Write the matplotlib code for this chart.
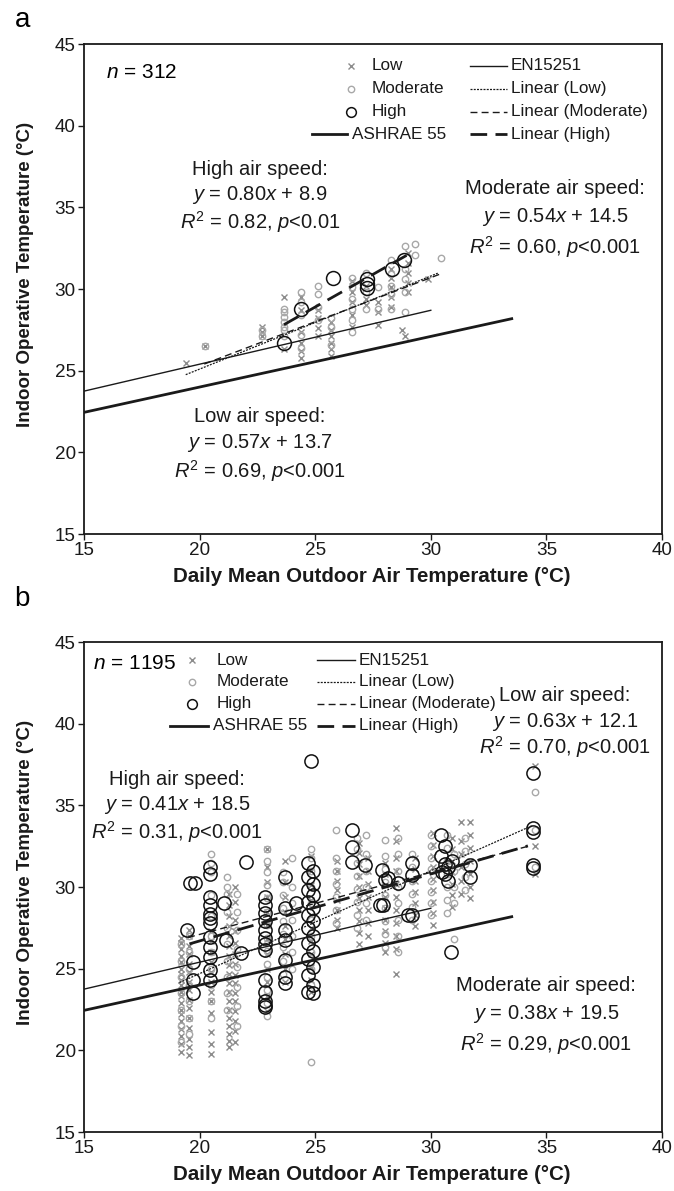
import matplotlib
matplotlib.use('Agg')
import matplotlib.pyplot as plt
from matplotlib.lines import Line2D
import numpy as np

plt.rcParams['font.family'] = ['Liberation Sans', 'DejaVu Sans']
plt.rcParams['mathtext.fontset'] = 'custom'
plt.rcParams['mathtext.rm'] = 'Liberation Sans'
plt.rcParams['mathtext.it'] = 'Liberation Sans:italic'
plt.rcParams['mathtext.bf'] = 'Liberation Sans:bold'

# ---------------- DATA ----------------
# Panel a : columns of (outdoor temp, [indoor temps])
low_a = [
    (19.4, [25.5]), (20.25, [26.5]), (22.7, [27.7, 27.4, 27.1]),
    (23.65, [29.5, 26.3]), (24.4, [29.5, 28.7, 27.4, 26.7, 26.2, 25.8]),
    (25.1, [28.7, 28.2, 27.6, 27.1]), (25.7, [28.0, 27.5, 27.1, 26.7, 26.3, 25.9]),
    (26.6, [30.5, 29.8, 29.2, 28.4, 27.7]), (27.2, [30.2, 29.4, 29.0]),
    (27.7, [29.2, 28.6, 27.8]), (28.3, [31.2, 30.7, 30.1, 29.5, 28.9]),
    (28.75, [27.5]), (28.9, [27.1]), (29.0, [32.2, 31.6, 31.0, 30.4, 29.8]),
    (29.9, [30.6]),
]
mod_a = [
    (20.25, [26.5]), (22.7, [27.5, 27.1]),
    (23.65, [28.8, 28.6, 28.3, 28.0, 27.7, 27.5, 27.1]),
    (24.4, [29.8, 29.2, 28.4, 27.2, 26.4]), (25.1, [30.2, 29.7, 28.9, 28.1]),
    (25.7, [28.2, 27.7, 26.6]), (26.6, [30.7, 30.1, 29.4, 28.8, 28.1, 27.4]),
    (27.2, [31.0, 29.8, 28.8]), (27.7, [30.1, 28.8]),
    (28.3, [31.8, 30.9, 30.2, 29.7, 28.8]), (28.9, [32.65, 31.2, 30.6, 29.8, 28.6]),
    (29.3, [32.75, 32.1]), (30.46, [31.9]),
]
high_a = [
    (23.65, [26.67]), (24.37, [28.75]), (25.77, [30.69]),
    (27.24, [30.59, 30.34, 30.07]), (28.31, [31.2]), (28.86, [31.77]),
]
# regression fits panel a: (slope, intercept, x_start, x_end)
fit_low_a = (0.57, 13.7, 19.4, 30.3)
fit_mod_a = (0.54, 14.5, 20.2, 30.5)
fit_high_a = (0.80, 8.9, 23.65, 28.95)

# Panel b
low_b = [
    (19.2, [19.9, 20.4, 20.9, 21.3, 21.8, 22.2, 22.5, 22.9, 23.3, 23.6, 24.0, 24.3, 24.7, 25.0, 25.4, 25.8, 26.2, 26.6, 26.9]),
    (19.55, [19.7, 20.2, 20.7, 21.4, 22.0, 22.6, 23.1, 23.7, 24.2, 24.8, 25.3, 25.9, 26.4, 27.0, 27.4]),
    (20.5, [19.8, 20.4, 21.1, 22.3, 23.0, 23.6, 24.2, 24.8, 25.4, 26.0, 26.7, 27.3]),
    (21.25, [20.2, 20.6, 21.0, 21.5, 22.0, 22.5, 23.0, 23.6, 24.1, 24.7, 25.2, 25.8, 26.4, 27.0, 27.6, 28.2, 28.9, 29.6]),
    (21.55, [20.5, 21.2, 21.8, 22.4, 23.0, 23.5, 24.1, 24.6, 25.3, 25.9, 26.6, 27.3, 28.0, 29.1, 30.0]),
    (22.9, [22.4, 23.3, 24.2, 25.0, 25.9, 26.8, 27.7, 28.5, 29.4, 30.3, 31.2, 32.3]),
    (23.7, [24.2, 25.0, 25.9, 26.8, 27.6, 28.5, 29.4, 30.3, 31.6]),
    (24.8, [23.6, 24.3, 25.1, 25.9, 26.7, 27.5, 28.3, 29.2, 30.1, 31.0, 31.9]),
    (25.95, [27.5, 28.0, 28.6, 29.2, 29.8, 30.4, 31.0, 31.6]),
    (26.9, [26.5, 27.2, 27.9, 28.6, 29.3, 30.0, 30.7, 31.4, 32.1, 32.7]),
    (27.3, [27.0, 27.8, 28.6, 29.4, 30.2, 31.0, 31.8]),
    (28.0, [26.0, 26.6, 27.3, 28.0, 28.7, 29.4, 30.1, 30.8, 31.5]),
    (28.5, [24.7, 26.2, 27.0, 27.8, 28.6, 29.4, 30.2, 31.0, 31.8, 32.8, 33.6]),
    (29.3, [27.6, 28.3, 29.0, 29.7, 30.4, 31.1, 31.8]),
    (30.1, [27.7, 28.4, 29.1, 29.8, 30.5, 31.2, 31.9, 32.6, 33.3]),
    (30.9, [28.8, 29.5, 30.2, 30.9, 31.6, 32.3, 33.0]),
    (31.3, [29.6, 30.4, 31.2, 32.0, 32.8, 34.0]),
    (31.7, [29.3, 30.0, 30.8, 31.6, 32.4, 33.2, 34.0]),
    (34.5, [30.8, 32.5, 37.4]),
]
mod_b = [
    (19.2, [20.5, 21.5, 22.5, 23.5, 24.5, 25.5, 26.5]),
    (19.55, [21.0, 22.0, 23.0, 24.0, 25.0, 26.0, 27.0]),
    (20.5, [22.0, 23.0, 24.0, 25.0, 26.0, 27.0, 28.2, 29.5, 30.9, 31.5, 32.0]),
    (21.2, [22.5, 23.5, 24.5, 25.5, 26.5, 27.5, 28.5, 29.6, 30.0, 30.6]),
    (21.6, [21.5, 22.7, 23.9, 25.1, 26.2, 27.4, 28.5, 29.6]),
    (22.9, [22.1, 22.9, 23.7, 24.5, 25.3, 26.1, 26.9, 27.7, 28.5, 29.3, 30.1, 30.9, 31.6, 32.3]),
    (23.6, [24.7, 25.5, 26.3, 27.1, 27.9, 28.7, 29.5, 30.3, 30.9]),
    (24.0, [25.0, 26.0, 27.0, 28.0, 29.0, 30.0, 31.8]),
    (24.8, [19.3, 24.0, 25.0, 26.0, 27.0, 28.0, 29.0, 30.0, 31.0, 31.8, 32.3]),
    (25.9, [27.8, 28.6, 29.4, 30.2, 31.0, 31.8, 33.5]),
    (26.8, [27.5, 28.3, 29.1, 29.9, 30.7, 31.5, 32.3, 33.0]),
    (27.2, [28.0, 29.0, 30.0, 31.0, 32.0, 33.2]),
    (28.0, [26.3, 27.1, 27.9, 28.7, 29.5, 30.3, 31.1, 31.9, 32.9]),
    (28.6, [26.0, 27.0, 28.0, 29.0, 30.0, 31.0, 32.0, 33.0]),
    (29.2, [28.0, 28.8, 29.6, 30.4, 31.2, 32.0]),
    (30.0, [28.3, 29.0, 29.7, 30.4, 31.1, 31.8, 32.5, 33.2]),
    (30.7, [28.4, 29.2, 30.0, 30.8, 31.6, 32.4, 33.2]),
    (31.0, [26.8, 29.0, 30.0, 31.0, 32.0]),
    (31.5, [29.8, 30.6, 31.4, 32.2, 33.0]),
    (34.5, [31.2, 33.5, 35.8]),
]
high_b = [
    (19.45, [27.35]), (19.6, [30.26]), (19.8, [30.26]), (19.7, [25.42, 24.3, 23.49]),
    (20.45, [31.24, 30.83, 29.4, 28.9, 28.38, 28.08, 27.77, 26.95, 26.34, 25.73, 24.91, 24.3]),
    (21.07, [29.0]), (21.14, [26.75]), (21.79, [25.94]), (22.0, [31.54]),
    (22.85, [29.4, 28.9, 28.4, 27.9, 27.4, 26.9, 26.5, 26.14, 24.3, 23.6, 23.0, 22.8, 22.67]),
    (23.7, [30.6, 28.7, 27.36, 26.75, 25.53, 24.5, 24.1]), (24.15, [29.0]),
    (24.7, [31.45, 30.6, 29.8, 29.1, 28.3, 27.5, 26.6, 25.6, 24.6, 23.6]),
    (24.9, [31.0, 30.2, 29.5, 28.7, 27.9, 27.0, 26.1, 25.1, 24.0, 23.5]),
    (24.82, [37.7]),
    (26.6, [33.48, 32.46, 31.54]), (27.17, [31.34]),
    (27.88, [31.03]), (28.02, [30.42]), (28.17, [30.53]), (27.81, [28.89]), (27.95, [28.89]),
    (28.6, [30.22]), (29.17, [31.45, 30.74, 28.28]), (29.03, [28.28]),
    (30.46, [33.2, 31.9]), (30.6, [32.5, 31.4, 30.8]), (30.75, [31.2, 30.4]), (30.9, [31.6]),
    (30.5, [30.9]), (30.89, [26.03]), (31.68, [31.34, 30.63]),
    (34.4, [36.96, 33.59, 33.38, 31.34, 31.14]),
]
fit_low_b = (0.63, 12.1, 19.13, 34.4)
fit_mod_b = (0.38, 19.5, 19.5, 34.3)
fit_high_b = (0.41, 18.5, 19.56, 34.2)

# comfort standards: (slope, intercept, x_start, x_end)
ashrae55 = (0.31, 17.8, 15.0, 33.5)
en15251 = (0.33, 18.8, 15.0, 30.0)

x_ticks = [15, 20, 25, 30, 35, 40]
y_ticks = [15, 20, 25, 30, 35, 40, 45]

# ---------------- STYLES ----------------
GRAY_X = '#8c8c8c'
GRAY_O = '#a8a8a8'
INK = '#1a1a1a'
styles = {
    'ashrae': dict(color=INK, lw=2.0, ls='-'),
    'en': dict(color=INK, lw=1.0, ls='-'),
    'flow': dict(color=INK, lw=0.9, ls=(0, (1.6, 1.0))),
    'fmod': dict(color=INK, lw=1.0, ls=(0, (5, 3))),
    'fhigh': dict(color=INK, lw=2.0, ls=(0, (6, 3))),
}
LEG_FS = 12.3
AX_L, AX_R = 84, 662


def flatten(cols):
    xs, ys = [], []
    for x, yl in cols:
        xs += [x] * len(yl)
        ys += list(yl)
    return np.array(xs), np.array(ys)


def line_xy(p):
    s, b, x0, x1 = p
    xx = np.array([x0, x1])
    return xx, s * xx + b


def draw(ax, low, mod, high, fits, hsize):
    lx, ly = flatten(low)
    mx, my = flatten(mod)
    hx, hy = flatten(high)
    ax.plot(lx, ly, ls='none', marker='x', color=GRAY_X, ms=4.6, mew=1.0, zorder=2)
    ax.plot(mx, my, ls='none', marker='o', mfc='none', mec=GRAY_O, ms=4.6, mew=1.0, zorder=2)
    ax.plot(hx, hy, ls='none', marker='o', mfc='none', mec='#111111', ms=hsize, mew=1.1, zorder=4)
    for key, p in [('ashrae', ashrae55), ('en', en15251)]:
        xx, yy = line_xy(p)
        ax.plot(xx, yy, zorder=5, **styles[key])
    for key, p in zip(['flow', 'fmod', 'fhigh'], fits):
        xx, yy = line_xy(p)
        ax.plot(xx, yy, zorder=5, **styles[key])

    ax.set_xlim(15, 40)
    ax.set_ylim(15, 45)
    ax.set_xticks(x_ticks)
    ax.set_yticks(y_ticks)
    ax.tick_params(direction='out', length=4, width=1.0, labelsize=13.6, pad=2,
                   top=False, right=False, colors=INK)
    for sp in ax.spines.values():
        sp.set_linewidth(1.3)
        sp.set_color(INK)
    ax.set_ylabel('Indoor Operative Temperature (°C)', fontsize=13.5, fontweight='bold', color=INK)
    ax.set_xlabel('Daily Mean Outdoor Air Temperature (°C)', fontsize=14.8, fontweight='bold', color=INK)
    ax.yaxis.set_label_coords(-0.086, 0.53)
    ax.xaxis.set_label_coords(0.497, -0.068)


def legend_entry(ax, kind, hx0, hx1, tx, y, label):
    tr = ax.transAxes
    if kind == 'low':
        ax.add_line(Line2D([(hx0 + hx1) / 2], [y], transform=tr, ls='none', marker='x',
                           color=GRAY_X, ms=4.6, mew=1.0))
    elif kind == 'mod':
        ax.add_line(Line2D([(hx0 + hx1) / 2], [y], transform=tr, ls='none', marker='o',
                           mfc='none', mec=GRAY_O, ms=4.6, mew=1.0))
    elif kind == 'high':
        ax.add_line(Line2D([(hx0 + hx1) / 2], [y], transform=tr, ls='none', marker='o',
                           mfc='none', mec='#111111', ms=7, mew=1.1))
    else:
        ax.add_line(Line2D([hx0, hx1], [y, y], transform=tr, **styles[kind]))
    ax.text(tx, y, label, transform=tr, fontsize=LEG_FS, va='center', ha='left', color=INK)


def legend(ax, mx, mt, ax0, ax1, at, rx0, rx1, rt, rows):
    legend_entry(ax, 'low', mx - 0.01, mx + 0.01, mt, rows[0], 'Low')
    legend_entry(ax, 'mod', mx - 0.01, mx + 0.01, mt, rows[1], 'Moderate')
    legend_entry(ax, 'high', mx - 0.01, mx + 0.01, mt, rows[2], 'High')
    legend_entry(ax, 'ashrae', ax0, ax1, at, rows[3], 'ASHRAE 55')
    legend_entry(ax, 'en', rx0, rx1, rt, rows[0], 'EN15251')
    legend_entry(ax, 'flow', rx0, rx1, rt, rows[1], 'Linear (Low)')
    legend_entry(ax, 'fmod', rx0, rx1, rt, rows[2], 'Linear (Moderate)')
    legend_entry(ax, 'fhigh', rx0, rx1, rt, rows[3], 'Linear (High)')


def eq_block(ax, x, ys, title, eq, r2):
    for y, t in zip(ys, [title, eq, r2]):
        ax.text(x, y, t, transform=ax.transAxes, fontsize=14.5, ha='center', va='center', color=INK)


def px(v):
    """horizontal pixel position -> axes fraction"""
    return (v - AX_L) / float(AX_R - AX_L)


W = (AX_R - AX_L) / 674.0
fig = plt.figure(figsize=(6.74, 11.91), dpi=100)
ax_a = fig.add_axes([AX_L / 674.0, 0.5516, W, 0.4114])
ax_b = fig.add_axes([AX_L / 674.0, 0.0495, W, 0.4114])

draw(ax_a, low_a, mod_a, high_a, [fit_low_a, fit_mod_a, fit_high_a], 10)
draw(ax_b, low_b, mod_b, high_b, [fit_low_b, fit_mod_b, fit_high_b], 9.5)

# panel a annotations
ax_a.text(px(106), 0.941, r'$n$ = 312', transform=ax_a.transAxes, fontsize=15, va='center', ha='left')
legend(ax_a, px(351), px(372), px(312), px(347), px(352), px(470), px(507), px(511),
       [0.956, 0.909, 0.862, 0.816])
eq_block(ax_a, px(260), [0.745, 0.691, 0.636], 'High air speed:', r'$y$ = 0.80$x$ + 8.9',
         r'$R^2$ = 0.82, $p$<0.01')
eq_block(ax_a, px(555), [0.706, 0.648, 0.586], 'Moderate air speed:', r'$y$ = 0.54$x$ + 14.5',
         r'$R^2$ = 0.60, $p$<0.001')
eq_block(ax_a, px(260), [0.240, 0.185, 0.128], 'Low air speed:', r'$y$ = 0.57$x$ + 13.7',
         r'$R^2$ = 0.69, $p$<0.001')

# panel b annotations
ax_b.text(px(93), 0.957, r'$n$ = 1195', transform=ax_b.transAxes, fontsize=15, va='center', ha='left')
legend(ax_b, px(192), px(217), px(170), px(208), px(213), px(317), px(355), px(359),
       [0.963, 0.919, 0.874, 0.829])
eq_block(ax_b, px(565), [0.890, 0.837, 0.785], 'Low air speed:', r'$y$ = 0.63$x$ + 12.1',
         r'$R^2$ = 0.70, $p$<0.001')
eq_block(ax_b, px(177), [0.720, 0.667, 0.612], 'High air speed:', r'$y$ = 0.41$x$ + 18.5',
         r'$R^2$ = 0.31, $p$<0.001')
eq_block(ax_b, px(546), [0.300, 0.240, 0.180], 'Moderate air speed:', r'$y$ = 0.38$x$ + 19.5',
         r'$R^2$ = 0.29, $p$<0.001')

fig.text(0.033, 0.983, 'a', fontsize=20, ha='center', va='center')
fig.text(0.033, 0.497, 'b', fontsize=20, ha='center', va='center')

fig.savefig('out.png', dpi=100)
